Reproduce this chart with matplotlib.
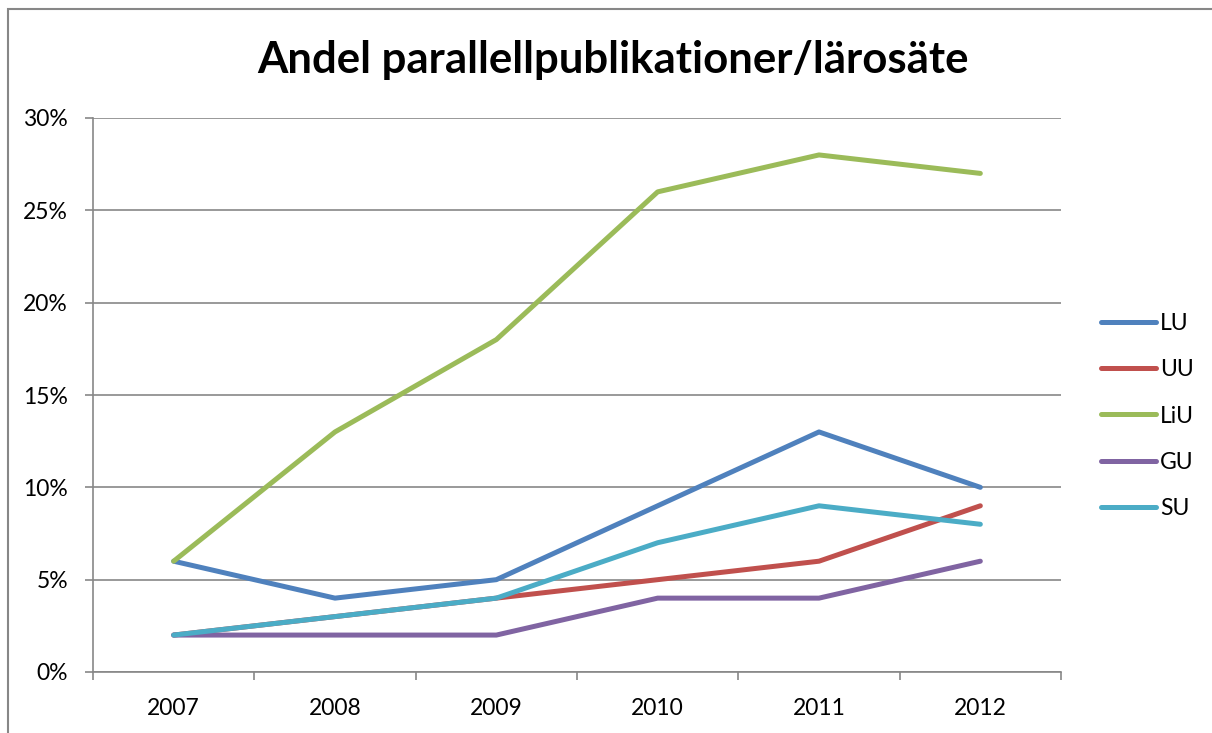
import numpy as np
import matplotlib.pyplot as plt
from matplotlib.patches import Rectangle

# Dados (percentual)
anos = ["2007", "2008", "2009", "2010", "2011", "2012"]
lu = [6, 4, 5, 9, 13, 10]
uu = [2, 3, 4, 5, 6, 9]
liu = [6, 13, 18, 26, 28, 27]
gu = [2, 2, 2, 4, 4, 6]
su = [2, 3, 4, 7, 9, 8]

series = [("LU", lu, "#4F81BD"), ("UU", uu, "#C0504D"), ("LiU", liu, "#9BBB59"),
          ("GU", gu, "#8064A2"), ("SU", su, "#4BACC6")]

plt.rcParams["font.family"] = ["Lato", "DejaVu Sans"]
cinza = "#878787"

fig = plt.figure(figsize=(12.12, 7.33), dpi=100)
# borda da área do gráfico (cortada à direita e embaixo)
fig.patches.append(Rectangle((8 / 1212, -0.1), 2, 1 - 9 / 733 + 0.1, transform=fig.transFigure,
                             fill=False, edgecolor=cinza, linewidth=1.5))

ax = fig.add_axes([93 / 1212, 1 - 672 / 733, (1061 - 93) / 1212, (672 - 118) / 733])

x = np.arange(len(anos))
for nome, valores, cor in series:
    ax.plot(x, valores, color=cor, linewidth=3.6, solid_capstyle="round", label=nome)

ax.set_xlim(-0.5, len(anos) - 0.5)
ax.set_ylim(0, 30)
ax.set_yticks(range(0, 31, 5))
ax.set_yticklabels([f"{v}%" for v in range(0, 31, 5)])
ax.grid(axis="y", color=cinza, linewidth=1.2)
ax.set_axisbelow(True)

ax.set_xticks(np.arange(-0.5, len(anos), 1))
ax.set_xticklabels([])
ax.set_xticks(x, minor=True)
ax.set_xticklabels(anos, minor=True)
ax.tick_params(axis="x", which="major", length=6, width=1.2, color=cinza, direction="out")
ax.tick_params(axis="x", which="minor", length=0, pad=19, labelsize=16.5)
ax.tick_params(axis="y", length=6, width=1.2, color=cinza, pad=12, labelsize=16.5)

for lado in ["top", "right"]:
    ax.spines[lado].set_visible(False)
for lado in ["left", "bottom"]:
    ax.spines[lado].set_color(cinza)
    ax.spines[lado].set_linewidth(1.2)

fig.text(613 / 1212, 1 - 60 / 733, "Andel parallellpublikationer/lärosäte",
         ha="center", va="center", fontsize=31.5, fontweight="bold")

ax.legend(loc="center left", bbox_to_anchor=(1090 / 1212, 1 - 416 / 733),
          bbox_transform=fig.transFigure, frameon=False, fontsize=16.5,
          handlelength=2.4, handletextpad=0.15, labelspacing=1.1, borderpad=0)

fig.savefig("out.png", dpi=100)
